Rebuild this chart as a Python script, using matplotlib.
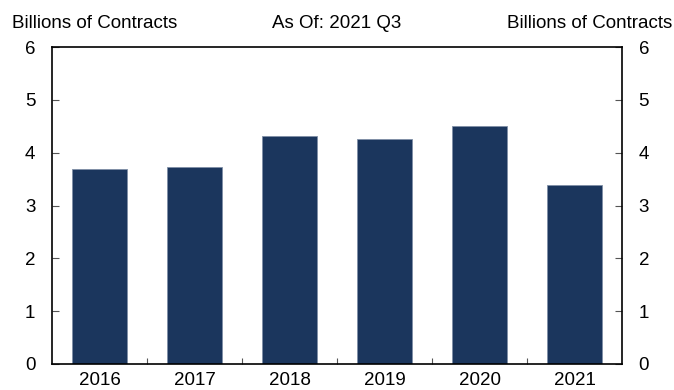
import matplotlib.pyplot as plt
import numpy as np

plt.rcParams['font.family'] = ['Liberation Sans', 'DejaVu Sans']

years = ['2016', '2017', '2018', '2019', '2020', '2021']
contracts = [3.70, 3.72, 4.31, 4.25, 4.51, 3.38]
yticks = [0, 1, 2, 3, 4, 5, 6]

W, H = 674, 390
fig = plt.figure(figsize=(W / 100, H / 100), dpi=100)
# plot box in pixels: left 52, right 622, top 47, bottom 364
ax = fig.add_axes([52 / W, 1 - 364 / H, 570 / W, 317 / H])

x = np.arange(len(years))
ax.bar(x, contracts, width=0.58, color='#1B365D', edgecolor='#7f8fa6', linewidth=0.6)

ax.set_xlim(-0.5, len(years) - 0.5)
ax.set_ylim(0, 6)
ax.set_yticks(yticks)
ax.set_xticks(x)
ax.set_xticklabels(years)
ax.set_xticks(x[:-1] + 0.5, minor=True)

ax.tick_params(axis='x', which='major', length=0, labelsize=13.5, pad=6)
ax.tick_params(axis='x', which='minor', direction='in', length=4, width=0.8, color='#555555')
ax.tick_params(axis='y', direction='in', length=5, width=0.8, labelsize=13.5,
               left=True, right=True, labelleft=True, labelright=True, pad=12, color='#555555')

for s in ax.spines.values():
    s.set_linewidth(1.2)

fs = 13.5
ty = 1 - 23 / H
fig.text(12 / W, ty, 'Billions of Contracts', ha='left', va='center', fontsize=fs)
fig.text(337 / W, ty, 'As Of: 2021 Q3', ha='center', va='center', fontsize=fs)
fig.text(672 / W, ty, 'Billions of Contracts', ha='right', va='center', fontsize=fs)

fig.savefig('out.png', dpi=100)
